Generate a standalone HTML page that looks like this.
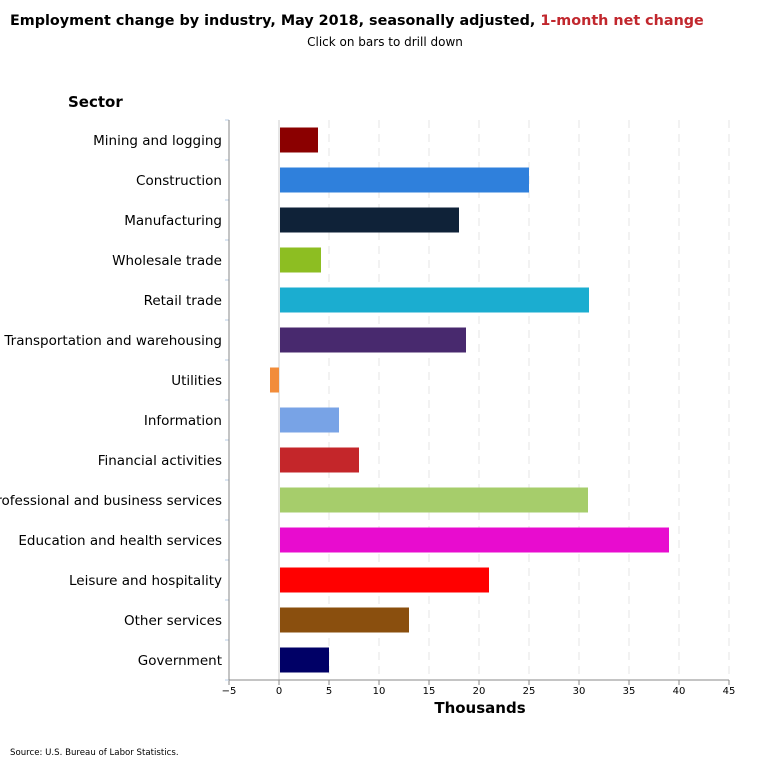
<!DOCTYPE html>
<html><head><meta charset="utf-8"><style>
body{margin:0;background:#fff;font-family:"DejaVu Sans","Liberation Sans",sans-serif;}
svg text{font-family:"DejaVu Sans","Liberation Sans",sans-serif;}
</style></head><body>
<svg id="c" width="770" height="760" xmlns="http://www.w3.org/2000/svg">
<text x="10" y="25" font-size="14.35" font-weight="bold" fill="#000">Employment change by industry, May 2018, seasonally adjusted, <tspan fill="#c1272d">1-month net change</tspan></text>
<text x="385" y="46" font-size="12" text-anchor="middle">Click on bars to drill down</text>
<text x="68" y="107" font-size="15" font-weight="bold">Sector</text>
<text x="480" y="713" font-size="15" font-weight="bold" text-anchor="middle">Thousands</text>
<text x="10" y="755" font-size="8.6">Source: U.S. Bureau of Labor Statistics.</text>
<g id="g"></g><g id="bars"></g>
</svg>
<script>
const categories=["Mining and logging","Construction","Manufacturing","Wholesale trade","Retail trade","Transportation and warehousing","Utilities","Information","Financial activities","Professional and business services","Education and health services","Leisure and hospitality","Other services","Government"];
const values=[3.9,25,18,4.2,31,18.7,-1,6,8,30.9,39,21,13,5];
const colors=["#8b0000","#2f80dc","#0f2238","#8dbe22","#1badd0","#48296e","#f28c3a","#78a3e6","#c4262a","#a6cd6b","#e80ccf","#ff0000","#8a4f0e","#000066"];
const ticks=[-5,0,5,10,15,20,25,30,35,40,45];
const NS="http://www.w3.org/2000/svg";
const L=229,R=729,T=120,B=680;
const x=v=>L+(v-(-5))/50*(R-L);
const rowH=(B-T)/categories.length;
const y=i=>T+i*rowH;
const g=document.getElementById('g'),bg=document.getElementById('bars');
function mk(tag,a,p){const e=document.createElementNS(NS,tag);for(const k in a)e.setAttribute(k,a[k]);p.appendChild(e);return e;}
ticks.forEach(t=>{
 if(t!==-5){const ln=mk('line',{x1:x(t),x2:x(t),y1:T,y2:B,stroke:t===0?'#cccccc':'#e6e6e6','stroke-dasharray':t===0?'':'8,6'},g);
 
 }
 const tl=mk('line',{x1:x(t),x2:x(t),y1:B,y2:B+5,stroke:'#888'},g);
 
 
 const tx=mk('text',{x:x(t),y:B+14,'font-size':10,'text-anchor':'middle'},g);tx.textContent=t<0?'\u2212'+(-t):t;
 
 
});
for(let i=0;i<=categories.length;i++){const tk=mk('line',{x1:L-4,x2:L,y1:y(i),y2:y(i),stroke:'#b8cce4'},g);
 
 }
const ax=mk('line',{x1:L,x2:L,y1:T,y2:B,stroke:'#888'},g);


const bx=mk('line',{x1:L,x2:R,y1:B,y2:B,stroke:'#888'},g);


categories.forEach((c,i)=>{
 const v=values[i];const x0=Math.min(x(0),x(v))+1,w=Math.max(1,Math.abs(x(v)-x(0))-1);
 const r=mk('rect',{x:x0,y:y(i)+rowH/2-12.5,width:w,height:25,fill:colors[i]},bg);
 
 
 const t=mk('text',{x:L-7,y:y(i)+rowH/2+5,'font-size':13.5,'text-anchor':'end'},bg);t.textContent=c;
 
 
});
</script>
</body></html>
